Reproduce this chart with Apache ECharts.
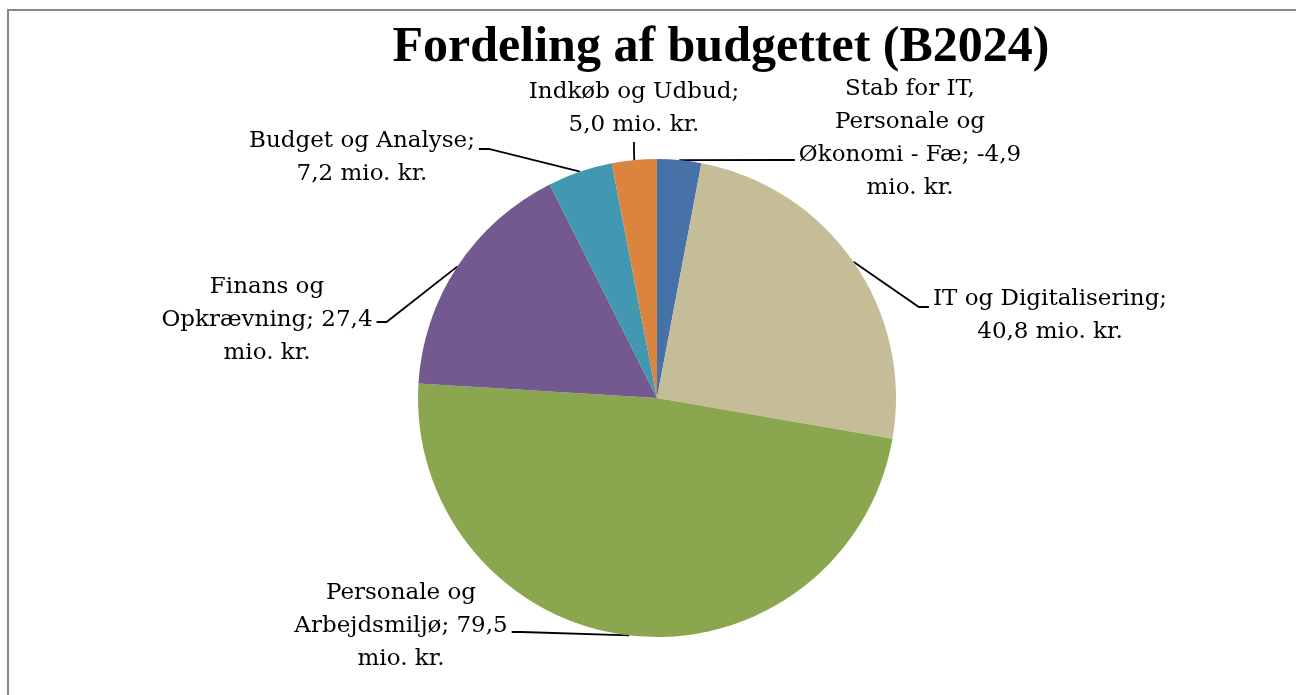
<!DOCTYPE html>
<html>
<head>
<meta charset="utf-8">
<script src="https://cdn.jsdelivr.net/npm/echarts@6/dist/echarts.min.js"></script>
<style>
html, body { margin: 0; padding: 0; background: #fff; }
#pie { width: 1296px; height: 695px; }
</style>
</head>
<body>
<div id="pie"></div>
<script>
// budget per unit, mio. kr. (B2024)
const categories = [
	'Stab for IT, Personale og Økonomi - Fæ',
	'IT og Digitalisering',
	'Personale og Arbejdsmiljø',
	'Finans og Opkrævning',
	'Budget og Analyse',
	'Indkøb og Udbud'
];
const values = [-4.9, 40.8, 79.5, 27.4, 7.2, 5.0];
// label text as wrapped in the original, {v} is the value
const labelTemplates = [
	'Stab for IT,\nPersonale og\nØkonomi - Fæ; {v}\nmio. kr.',
	'IT og Digitalisering;\n{v} mio. kr.',
	'Personale og\nArbejdsmiljø; {v}\nmio. kr.',
	'Finans og\nOpkrævning; {v}\nmio. kr.',
	'Budget og Analyse;\n{v} mio. kr.',
	'Indkøb og Udbud;\n{v} mio. kr.'
];
const colors = ['#4672a8', '#c4bd97', '#8aa64e', '#72598f', '#4298b0', '#db843d'];

// centre of each label's text block
const labelPos = [
	[910, 139],
	[1050, 316],
	[401, 626],
	[267, 320],
	[362, 158],
	[634, 109]
];
// extra padding [top, bottom] so the leader meets the right text row
const labelPad = [
	[0, 42],
	[18, 0],
	[0, 12],
	[0, 4],
	[18, 0],
	[0, 0]
];
const LINE_H = 33;

const fmt = (v) => v.toFixed(1).replace('.', ',');

const chart = echarts.init(document.getElementById('pie'));
chart.setOption({
	animation: false,
	graphic: [{
		type: 'rect',
		shape: { x: 8, y: 10, width: 1400, height: 800 },
		style: { fill: 'none', stroke: '#878787', lineWidth: 2 },
		silent: true
	}],
	title: {
		text: 'Fordeling af budgettet (B2024)',
		left: 716,
		top: 18,
		textAlign: 'center',
		textStyle: {
			fontFamily: 'Liberation Serif',
			fontWeight: 'bold',
			fontSize: 50,
			color: '#000'
		}
	},
	series: [{
		type: 'pie',
		center: [657, 398],
		radius: 239,
		startAngle: 90,
		clockwise: true,
		avoidLabelOverlap: false,
		itemStyle: { borderWidth: 0 },
		label: {
			show: true,
			position: 'outside',
			fontFamily: 'DejaVu Serif',
			fontSize: 23,
			lineHeight: LINE_H,
			color: '#000',
			align: 'center',
			backgroundColor: 'transparent',
			formatter: (p) => labelTemplates[p.dataIndex].replace('{v}', fmt(values[p.dataIndex]))
		},
		labelLine: {
			show: true,
			length2: 10,
			lineStyle: { color: '#000', width: 1.8 }
		},
		labelLayout: (p) => {
			const i = p.dataIndex;
			const rows = labelTemplates[i].split('\n').length;
			return {
				x: labelPos[i][0],
				y: labelPos[i][1] - rows * LINE_H / 2 - labelPad[i][0],
				align: 'center',
				verticalAlign: 'top'
			};
		},
		data: categories.map((name, i) => ({
			name: name,
			value: Math.abs(values[i]),
			itemStyle: { color: colors[i] },
			label: { padding: [labelPad[i][0], 4, labelPad[i][1], 4] }
		}))
	}]
});
</script>
</body>
</html>
